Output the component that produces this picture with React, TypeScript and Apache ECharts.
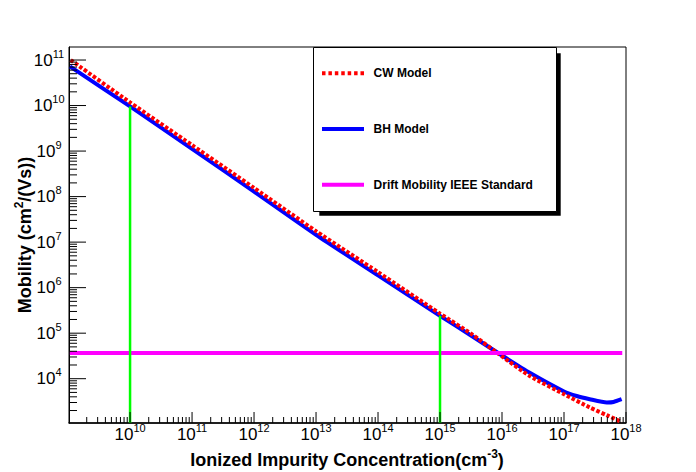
import React, { useEffect, useRef } from "react";
import * as echarts from "echarts";

// ---- data ----
const concentrationBH = [1.07e9, 1e10, 1e11, 1e12, 1e13, 1e14, 1e15, 3.16e15, 1e16, 2.8e16, 1e17, 1.6e17, 2.6e17, 4.9e17, 6.3e17, 8.5e17];
const mobilityBH = [7.24e10, 9.55e9, 1.12e9, 1.29e8, 1.45e7, 1.86e6, 2.4e5, 8.91e4, 3.24e4, 1.35e4, 5.25e3, 4.17e3, 3.55e3, 3.02e3, 3.09e3, 3.55e3];

const concentrationCW = [1.1e9, 1e10, 1e11, 1e12, 1e13, 1e14, 1e15, 3.16e15, 1e16, 2.8e16, 1e17, 2.6e17, 4.9e17, 8.5e17];
const mobilityCW = [1.0e11, 1.17e10, 1.35e9, 1.55e8, 1.74e7, 2.19e6, 2.69e5, 9.77e4, 3.09e4, 1.15e4, 4.57e3, 2.34e3, 1.58e3, 1.12e3];

const ieeeConcentration = [1.07e9, 8.7e17];
const ieeeMobility = [3.67e4, 3.67e4];

const markConcentration = [1e10, 1e15];
const markMobility = [9.5e9, 2.4e5];

const seriesNames = ["CW Model", "BH Model", "Drift Mobility IEEE Standard"];
const xMajorExponents = [10, 11, 12, 13, 14, 15, 16, 17, 18];
const yMajorExponents = [4, 5, 6, 7, 8, 9, 10, 11];
const minorMultipliers = [2, 3, 4, 5, 6, 7, 8, 9];

const X_MIN = 9.015;
const X_MAX = 18;
const Y_MIN = 3.027;
const Y_MAX = 11.286;

const FONT = '"Liberation Sans", Arial, Helvetica, sans-serif';

const toLog = (xs: number[], ys: number[]) => xs.map((x, i) => [Math.log10(x), Math.log10(ys[i])]);

function buildTicks() {
  const ticks: number[][] = [];
  for (let n = Math.floor(X_MIN); n <= X_MAX; n++) {
    if (xMajorExponents.includes(n)) ticks.push([n, 0]);
    for (const k of minorMultipliers) {
      const v = n + Math.log10(k);
      if (v > X_MIN && v < X_MAX) ticks.push([v, 1]);
    }
  }
  for (let n = Math.floor(Y_MIN); n <= Y_MAX; n++) {
    if (yMajorExponents.includes(n)) ticks.push([n, 2]);
    for (const k of minorMultipliers) {
      const v = n + Math.log10(k);
      if (v > Y_MIN && v < Y_MAX) ticks.push([v, 3]);
    }
  }
  return ticks;
}

// dotted legend sample: 7 dashes across 42 units, 4 units tall
const dottedIcon =
  "path://" +
  [0, 1, 2, 3, 4, 5, 6]
    .map((i) => `M${(i * 6.4167).toFixed(3)},0h3.5v4h-3.5z`)
    .join("");
const solidIcon = "path://M0,0.35h42v3.3h-42z M0,0h0.01v4h-0.01z";

const tickRich = {
  m: { fontFamily: FONT, fontSize: 17, lineHeight: 24, color: "#000" },
  s: { fontFamily: FONT, fontSize: 11, lineHeight: 11, verticalAlign: "top", color: "#000" },
};

const titleRich = {
  t: { fontFamily: FONT, fontSize: 18, fontWeight: "bold", lineHeight: 24, color: "#000" },
  u: { fontFamily: FONT, fontSize: 12, fontWeight: "bold", lineHeight: 12, verticalAlign: "top", color: "#000" },
};

export default function App() {
  const ref = useRef<HTMLDivElement>(null);
  useEffect(() => {
    if (!ref.current) return;
    const chart = echarts.init(ref.current, undefined, { renderer: "svg" });
    const option: any = {
      animation: false,
      backgroundColor: "#fff",
      grid: {
        left: 69,
        top: 47,
        width: 557,
        height: 376,
        show: true,
        borderColor: "#000",
        borderWidth: 1,
        backgroundColor: "#fff",
      },
      xAxis: {
        type: "value",
        min: X_MIN,
        max: X_MAX,
        axisLine: { show: true, onZero: false, lineStyle: { color: "#000", width: 1.5 } },
        axisTick: { show: false },
        axisLabel: { show: false },
        splitLine: { show: false },
      },
      yAxis: {
        type: "value",
        min: Y_MIN,
        max: Y_MAX,
        axisLine: { show: true, onZero: false, lineStyle: { color: "#000", width: 1 } },
        axisTick: { show: false },
        axisLabel: { show: false },
        splitLine: { show: false },
      },
      legend: {
        orient: "vertical",
        left: 322,
        top: 66.3,
        z: 10,
        padding: 0,
        itemGap: 41.7,
        itemWidth: 42,
        itemHeight: 4,
        symbolKeepAspect: false,
        backgroundColor: "transparent",
        borderWidth: 0,
        textStyle: {
          fontFamily: FONT,
          fontWeight: "bold",
          fontSize: 12,
          lineHeight: 14,
          color: "#000",
          padding: [0, 0, 0, 4.6],
        },
        data: [
          { name: seriesNames[0], icon: dottedIcon },
          { name: seriesNames[1], icon: "rect" },
          { name: seriesNames[2], icon: "rect" },
        ],
      },
      graphic: [
        {
          type: "rect",
          z: 3,
          shape: { x: 319.3, y: 53.3, width: 241.4, height: 162.4 },
          style: { fill: "#000" },
        },
        {
          type: "rect",
          z: 4,
          shape: { x: 313.5, y: 47.5, width: 243, height: 164 },
          style: { fill: "#fff", stroke: "#000", lineWidth: 1 },
        },
        {
          type: "text",
          x: 347,
          y: 460,
          style: {
            text: "{t|Ionized Impurity Concentration(cm}{u|-3}{t|)}",
            rich: titleRich,
            align: "center",
            verticalAlign: "middle",
          },
        },
        {
          type: "text",
          x: 25,
          y: 235,
          rotation: Math.PI / 2,
          style: {
            text: "{t|Mobility (cm}{u|2}{t|/(Vs))}",
            rich: titleRich,
            align: "center",
            verticalAlign: "middle",
          },
        },
      ],
      series: [
        {
          name: seriesNames[1],
          type: "line",
          data: toLog(concentrationBH, mobilityBH),
          showSymbol: false,
          symbol: "none",
          smooth: 0.2,
          lineStyle: { color: "#0000ff", width: 4 },
          itemStyle: { color: "#0000ff" },
          z: 2,
        },
        {
          name: seriesNames[0],
          type: "line",
          data: toLog(concentrationCW, mobilityCW),
          showSymbol: false,
          symbol: "none",
          smooth: 0.2,
          lineStyle: { color: "#ff0000", width: 4, type: [3.5, 2] },
          itemStyle: { color: "#ff0000" },
          z: 3,
        },
        {
          name: seriesNames[2],
          type: "line",
          data: toLog(ieeeConcentration, ieeeMobility),
          showSymbol: false,
          symbol: "none",
          lineStyle: { color: "#ff00ff", width: 4 },
          itemStyle: { color: "#ff00ff" },
          z: 4,
        },
        ...markConcentration.map((c, i) => ({
          name: "mark" + i,
          type: "line",
          data: [
            [Math.log10(c), Y_MIN],
            [Math.log10(c), Math.log10(markMobility[i])],
          ],
          showSymbol: false,
          symbol: "none",
          lineStyle: { color: "#00ff00", width: 2.5 },
          z: 5,
        })),
        {
          type: "custom",
          name: "ticks",
          silent: true,
          clip: false,
          z: 6,
          data: buildTicks(),
          renderItem: (params: any, api: any) => {
            const v = api.value(0);
            const kind = api.value(1);
            if (kind < 2) {
              const p = api.coord([v, Y_MIN]);
              const len = kind === 0 ? 11 : 6;
              return {
                type: "line",
                shape: { x1: p[0], y1: p[1], x2: p[0], y2: p[1] - len },
                style: { stroke: "#000", lineWidth: 1 },
              };
            }
            const p = api.coord([X_MIN, v]);
            const len = kind === 2 ? 17 : 8;
            return {
              type: "line",
              shape: { x1: p[0], y1: p[1], x2: p[0] + len, y2: p[1] },
              style: { stroke: "#000", lineWidth: 1 },
            };
          },
        },
        {
          type: "custom",
          name: "tickLabels",
          silent: true,
          clip: false,
          z: 6,
          data: [...xMajorExponents.map((n) => [n, 0]), ...yMajorExponents.map((n) => [n, 1])],
          renderItem: (params: any, api: any) => {
            const n = api.value(0);
            const kind = api.value(1);
            let x: number;
            let y: number;
            if (kind === 0) {
              const p = api.coord([n, Y_MIN]);
              x = p[0];
              y = p[1] + 11;
            } else {
              const p = api.coord([X_MIN, n]);
              x = p[0] - 20;
              y = p[1];
            }
            return {
              type: "text",
              x,
              y,
              style: {
                text: `{m|10}{s|${n}}`,
                rich: tickRich,
                align: "center",
                verticalAlign: "middle",
                fill: "#000",
              },
            };
          },
        },
      ],
    };
    chart.setOption(option);
    return () => chart.dispose();
  }, []);
  return (
    <div
      ref={ref}
      style={{ position: "fixed", left: 0, top: 0, width: 696, height: 472, background: "#fff" }}
    />
  );
}
